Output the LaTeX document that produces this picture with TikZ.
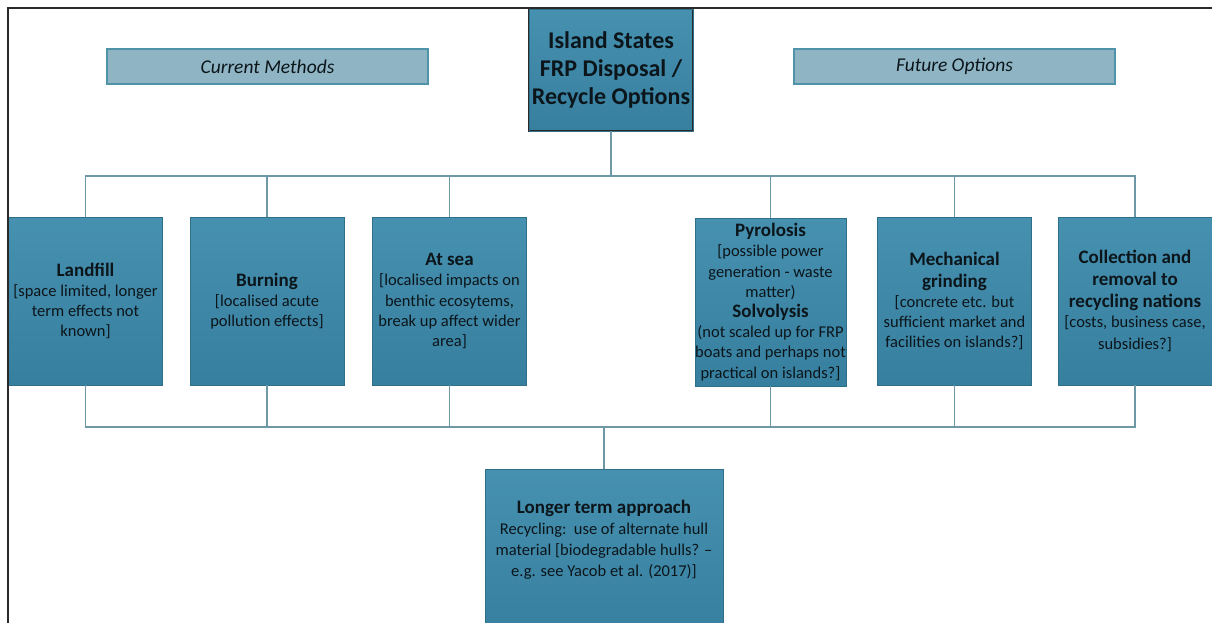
\documentclass[tikz,border=0pt]{standalone}
\usepackage{fontspec}
\setmainfont{Carlito}
\definecolor{boxtop}{HTML}{4690B0}
\definecolor{boxbot}{HTML}{377F9F}
\definecolor{boxedge}{HTML}{2F6F8A}
\definecolor{hdrfill}{HTML}{8FB4C4}
\definecolor{hdredge}{HTML}{4E93A8}
\definecolor{conn}{HTML}{6F98A6}
\definecolor{ink}{HTML}{0B151A}
\definecolor{frame}{HTML}{2A2A2A}
\tikzset{
  optbox/.style={rectangle, draw=boxedge, line width=0.8pt, top color=boxtop, bottom color=boxbot,
    minimum width=154pt, minimum height=168pt, inner sep=0pt, text=ink, align=center,
    font=\fontsize{16.5}{20.2}\selectfont},
  rootbox/.style={rectangle, draw=frame, double=boxedge, double distance=0.8pt, line width=1pt,
    top color=boxtop, bottom color=boxbot, minimum width=164pt, minimum height=122pt,
    inner sep=0pt, text=ink, align=center, font=\fontsize{24}{28}\selectfont\bfseries},
  hdrbox/.style={rectangle, draw=hdredge, line width=1.2pt, fill=hdrfill,
    minimum width=321pt, minimum height=35pt, inner sep=0pt, text=ink,
    font=\fontsize{19.5}{22}\selectfont\itshape},
  conline/.style={draw=conn, line width=1.3pt}
}
\newcommand{\hb}[1]{{\fontsize{19}{22}\selectfont\bfseries #1}}
\begin{document}
\begin{tikzpicture}[x=1pt,y=-1pt]
\useasboundingbox (0,0) rectangle (1212,623);
\begin{scope}
\clip (0,0) rectangle (1212,623);
% headers
\node[hdrbox] (cur) at (267.5,66.5) {Current Methods};
\node[hdrbox] (fut) at (954.5,66.5) {Future Options};
% root
\node[rootbox] (root) at (611,70) {Island States\\FRP Disposal /\\Recycle Options};
% option boxes
\node[optbox] (land) at (85.5,301) {\hb{Landfill}\\{}[space limited, longer\\term effects not\\known]};
\node[optbox] (burn) at (267,301) {\hb{Burning}\\{}[localised acute\\pollution effects]};
\node[optbox] (sea) at (449.5,301) {\hb{At sea}\\{}[localised impacts on\\benthic ecosytems,\\break up affect wider\\area]};
\node[optbox, minimum width=151pt] (pyro) at (770.5,302) {\hb{Pyrolosis}\\{}[possible power\\generation - waste\\matter)\\\hb{Solvolysis}\\(not scaled up for FRP\\boats and perhaps not\\practical on islands?]};
\node[optbox] (mech) at (954.5,301) {\hb{Mechanical}\\[2pt]\hb{grinding}\\{}[concrete etc. but\\sufficient market and\\facilities on islands?]};
\node[optbox] (coll) at (1135,301) {\hb{Collection and}\\[2pt]\hb{removal to}\\[2pt]\hb{recycling nations}\\{}[costs, business case,\\[2pt]subsidies?]};
% bottom box
\node[optbox, minimum width=238pt, minimum height=170pt, anchor=north] (long) at (604,469) {};
\node[text=ink, align=center, font=\fontsize{16.5}{21}\selectfont] (longtxt) at (604,540)
  {\hb{Longer term approach}\\Recycling:\ \ use of alternate hull\\material [biodegradable hulls? --\\e.g. see Yacob et al. (2017)]};
% connectors top
\coordinate (t) at (611,176);
\draw[conline] (root.south) -- (t);
\draw[conline] (land.north) |- (t) -| (coll.north);
\draw[conline] (burn.north) -- (burn.north |- t);
\draw[conline] (sea.north) -- (sea.north |- t);
\draw[conline] (pyro.north) -- (pyro.north |- t);
\draw[conline] (mech.north) -- (mech.north |- t);
% connectors bottom
\coordinate (b) at (604,427);
\draw[conline] (land.south) |- (b) -| (coll.south);
\draw[conline] (burn.south) -- (burn.south |- b);
\draw[conline] (sea.south) -- (sea.south |- b);
\draw[conline] (pyro.south) -- (pyro.south |- b);
\draw[conline] (mech.south) -- (mech.south |- b);
\draw[conline] (b) -- (long.north);
% frame
\draw[frame, line width=2.2pt] (8,640) -- (8,8) -- (1220,8);
\end{scope}
\end{tikzpicture}
\end{document}
